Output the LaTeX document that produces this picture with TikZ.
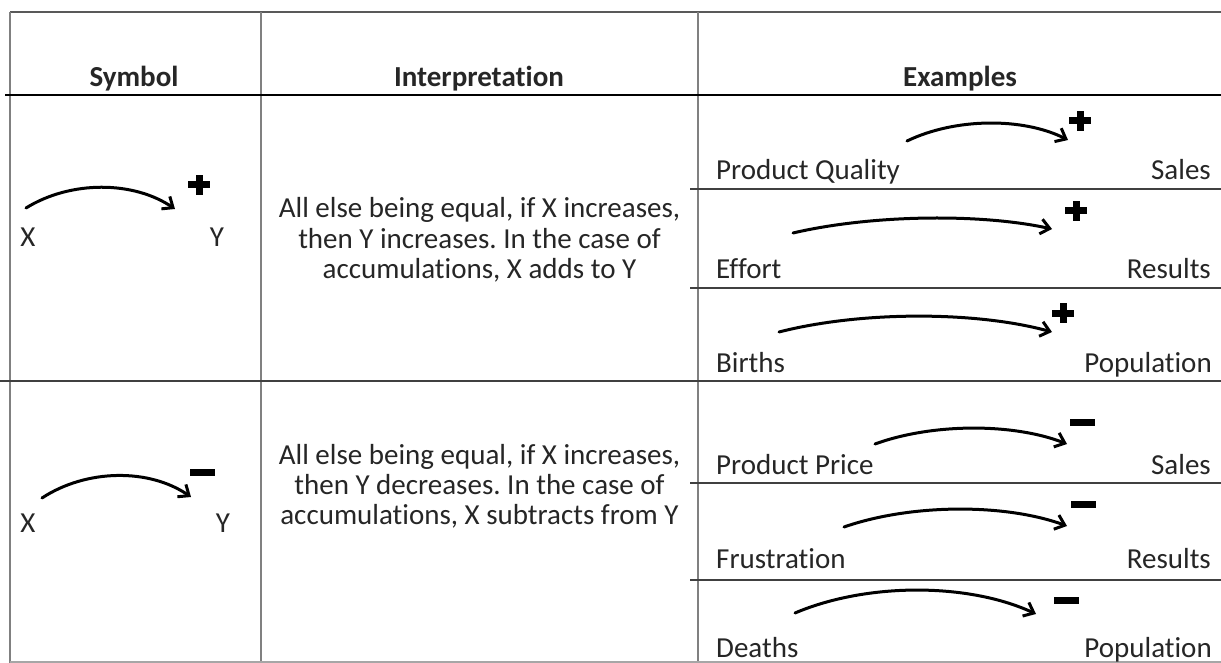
\documentclass[tikz,border=0pt]{standalone}
\usepackage{fontspec}
\setmainfont{Carlito}[Ligatures=NoCommon]
\usetikzlibrary{arrows.meta,calc}
\tikzset{
  txt/.style={inner sep=0pt, text=black!85, font=\fontsize{29}{30}\selectfont\frenchspacing},
  head/.style={txt, font=\fontsize{29}{30}\selectfont\bfseries, anchor=base},
  vline/.style={draw=black!50, line width=2pt},
  hline/.style={draw=black!75, line width=1.3pt},
  causal/.style={draw=black, line width=3pt, line cap=round,
     -{Straight Barb[length=9pt,width=15pt,line width=3pt]}},
  plussign/.pic={\fill[black] (-11,-3.5) rectangle (11,3.5); \fill[black] (-3.5,-10) rectangle (3.5,10);},
  minussign/.pic={\fill[black] (-12.5,-3.5) rectangle (12.5,3.5);}
}
\newcommand\carr[3]{\draw[causal] (#1) .. controls ($(#1)!0.3!(#2)+(0,-#3)$) and ($(#1)!0.72!(#2)+(0,-#3)$) .. (#2);}
\begin{document}
\begin{tikzpicture}[x=1pt,y=-1pt]
\useasboundingbox (0,0) rectangle (1221,663);
\fill[white] (0,0) rectangle (1221,663);
% table lines
\draw[draw=black!65, line width=1.3pt] (10,12) -- (1221,12);
\draw[vline] (10,12) -- (10,663);
\draw[vline] (261,12) -- (261,663);
\draw[vline] (698,12) -- (698,663);
\draw[draw=black, line width=2pt] (5,95) -- (1221,95);
\draw[hline] (0,381) -- (1221,381);
\draw[hline] (690,189) -- (1221,189);
\draw[hline] (690,288) -- (1221,288);
\draw[hline] (690,483) -- (1221,483);
\draw[hline] (690,580) -- (1221,580);
\draw[draw=black!35, line width=1.2pt] (10,662) -- (1221,662);
% header
\node[head] (hs) at (134,87) {Symbol};
\node[head] (hi) at (479,87) {Interpretation};
\node[head] (he) at (960,87) {Examples};
% symbol column
\node[txt, anchor=base] (x1) at (28,247) {X};
\node[txt, anchor=base] (y1) at (217,247) {Y};
\coordinate (s1) at (26,208); \coordinate (t1) at (175,209);
\carr{s1}{t1}{28}
\pic (p1) at (199,185) {plussign};
\node[txt, anchor=base] (x2) at (28,532) {X};
\node[txt, anchor=base] (y2) at (223,532) {Y};
\coordinate (s2) at (42,498); \coordinate (t2) at (191,497);
\carr{s2}{t2}{29}
\pic (m2) at (202,472) {minussign};
% interpretation
\node[txt, anchor=base] (i1a) at (479.5,218) {All else being equal, if X increases,};
\node[txt, anchor=base] (i1b) at (479.5,249) {then Y increases. In the case of};
\node[txt, anchor=base] (i1c) at (479.5,279) {accumulations, X adds to Y};
\node[txt, anchor=base] (i2a) at (479.5,464) {All else being equal, if X increases,};
\node[txt, anchor=base] (i2b) at (479.5,494) {then Y decreases. In the case of};
\node[txt, anchor=base] (i2c) at (479.5,524) {accumulations, X subtracts from Y};
% examples
\node[txt, anchor=base west] (ea) at (716,180) {Product Quality};
\node[txt, anchor=base east] (fa) at (1211,180) {Sales};
\coordinate (sa) at (907,141); \coordinate (ta) at (1068,140);
\carr{sa}{ta}{23}
\pic (pa) at (1080,121) {plussign};
\node[txt, anchor=base west] (eb) at (716,279) {Effort};
\node[txt, anchor=base east] (fb) at (1211,279) {Results};
\coordinate (sb) at (793,233); \coordinate (tb) at (1052,229);
\carr{sb}{tb}{17}
\pic (pb) at (1076,211) {plussign};
\node[txt, anchor=base west] (ec) at (716,372) {Births};
\node[txt, anchor=base east] (fc) at (1212,372) {Population};
\coordinate (sc) at (779,332); \coordinate (tc) at (1052,332);
\carr{sc}{tc}{21}
\pic (pc) at (1063,313) {plussign};
\node[txt, anchor=base west] (ed) at (716,474) {Product Price};
\node[txt, anchor=base east] (fd) at (1211,474) {Sales};
\coordinate (sd) at (875,444); \coordinate (td) at (1067,444);
\carr{sd}{td}{21}
\pic (md) at (1082,422) {minussign};
\node[txt, anchor=base west] (ee) at (716,568) {Frustration};
\node[txt, anchor=base east] (fe) at (1211,568) {Results};
\coordinate (se) at (844,527); \coordinate (te) at (1067,526);
\carr{se}{te}{23}
\pic (me) at (1083,504) {minussign};
\node[txt, anchor=base west] (ef) at (716,657) {Deaths};
\node[txt, anchor=base east] (ff) at (1212,657) {Population};
\coordinate (sf) at (795,613); \coordinate (tf) at (1036,614);
\carr{sf}{tf}{31}
\pic (mf) at (1066,600) {minussign};
\end{tikzpicture}
\end{document}
